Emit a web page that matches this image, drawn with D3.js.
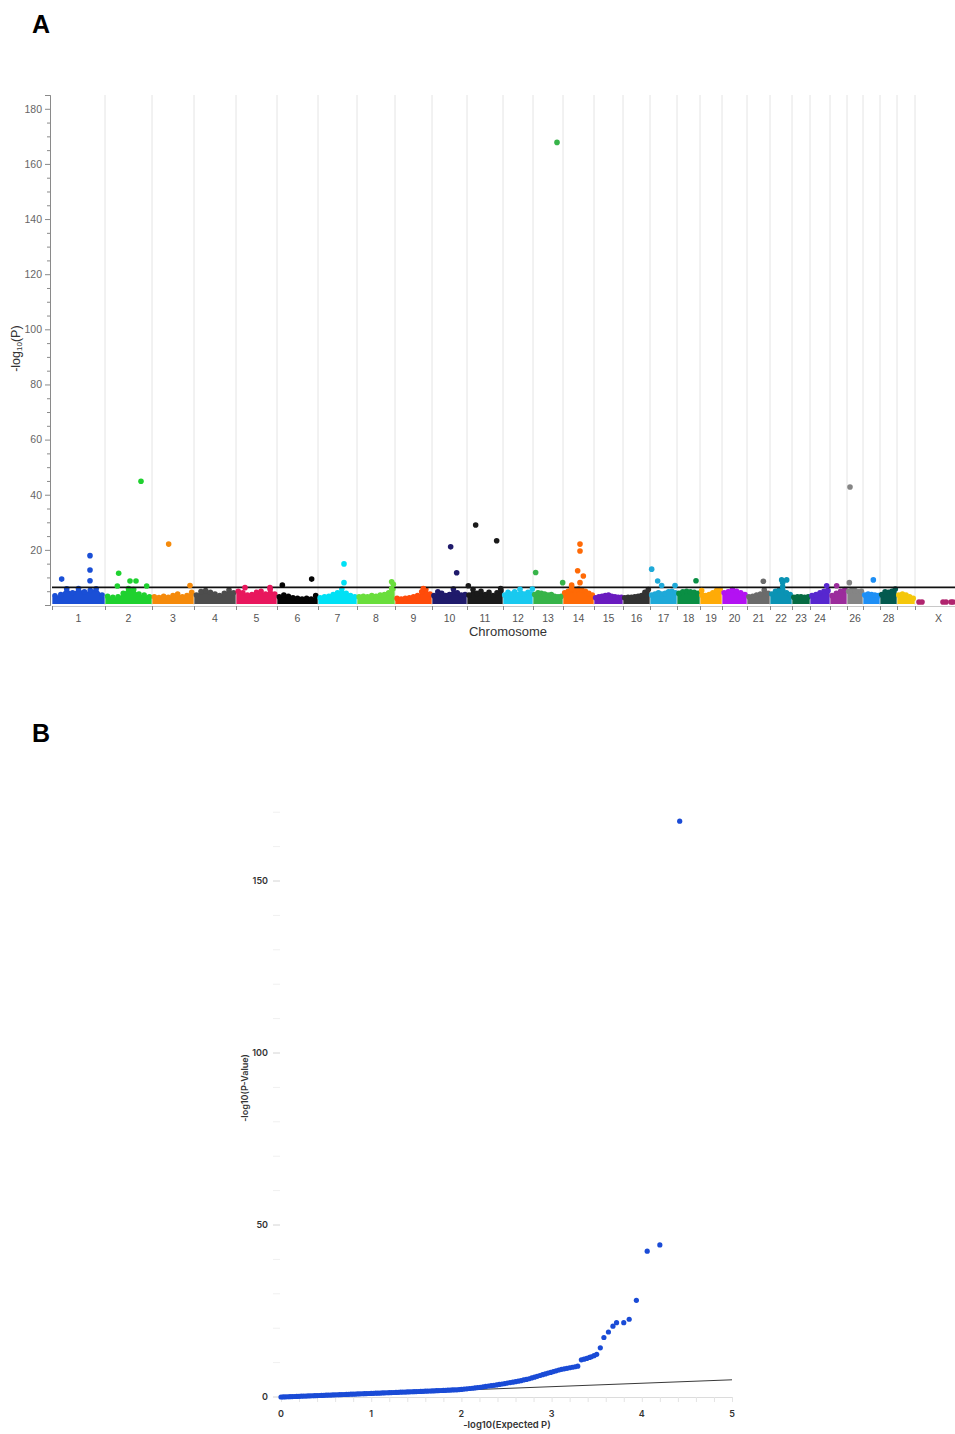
<!DOCTYPE html>
<html>
<head>
<meta charset="utf-8">
<script src="https://cdn.jsdelivr.net/npm/d3@7"></script>
<style>
    body { margin: 0; background: #fff; }
    svg { display: block; }
</style>
</head>
<body>
<svg id="chart" width="955" height="1434"></svg>
<script>
// --- Manhattan data ---
const chromosomes = ["1","2","3","4","5","6","7","8","9","10","11","12","13","14","15",
    "16","17","18","19","20","21","22","23","24","25","26","27","28","29","X"];
// lengths in Mb
const chromLengths = [159,141,126,126,123,123,117,114,111,105,108,90,90,93,87,
    81,81,69,66,75,69,66,54,60,51,48,51,51,54,141];
const hiddenLabels = ["25","27","29"];
const chromColors = ["#1a4fd6","#1fd12f","#f58a0b","#4d4d4d","#e8175d","#050505","#00e1f5","#6ade3c",
    "#ff4b0a","#1f1a6b","#1a1a1a","#19c9ef","#37b449","#ff6a06","#6a1bbf","#333333","#1fa9d8",
    "#0a8f44","#ffab07","#b312f2","#6b6b6b","#0a93b4","#056b43","#5727cf","#9b2c9c","#858585",
    "#1e8ff5","#045a4f","#f5c70a","#b0246e"];
// top of the dense mass of SNPs in each chromosome (-log10 P)
const massTops = [
    [3.3,3.8,5.9,4.4,6.0,4.8,5.3,5.9,3.6],
    [3.2,2.8,3.0,4.2,6.0,5.6,4.0,3.6,3.0],
    [3.0,2.7,3.2,2.8,3.4,4.0,3.0,3.4,4.6],
    [3.6,4.9,5.2,4.6,4.0,3.4,4.2,5.4,4.4],
    [5.0,4.4,3.6,3.8,4.6,5.0,4.0,5.6,4.0],
    [3.0,3.6,3.2,2.6,2.4,2.2,2.4,2.2,3.4],
    [2.6,3.0,3.2,3.8,4.4,5.8,4.2,3.4,3.0],
    [3.0,3.2,3.0,3.4,3.2,3.6,3.8,4.4,5.8],
    [2.4,2.2,2.4,2.6,3.0,3.4,4.8,5.6,4.0],
    [3.4,4.8,4.2,3.4,3.8,5.8,4.4,3.6,3.8],
    [3.6,5.6,4.2,5.0,3.8,4.6,3.4,4.4,5.2],
    [3.6,4.6,4.0,4.8,3.8,4.2,4.0,4.6,4.0],
    [3.8,4.4,4.2,4.0,3.6,3.8,3.2,3.0,3.2],
    [4.4,5.0,5.6,5.2,5.8,5.4,5.0,4.2,3.6],
    [2.6,3.0,3.2,3.4,3.6,3.2,3.0,2.8,2.8],
    [2.6,2.8,2.8,3.0,3.2,3.4,4.6,5.6],
    [3.6,4.0,4.4,4.0,4.2,4.8,5.0,4.4],
    [4.2,4.8,5.0,4.8,4.6,4.2],
    [3.6,3.4,3.8,4.4,5.2,5.6],
    [4.4,4.8,5.6,5.0,4.4,3.8],
    [3.0,3.2,3.6,4.0,5.4,4.2],
    [4.0,5.0,5.4,5.2,4.4,3.8],
    [2.8,3.0,3.0,2.8,3.0],
    [3.4,3.8,4.4,5.0,5.2],
    [3.4,4.2,5.0,5.6],
    [5.0,5.4,5.2,4.8,5.0],
    [3.6,4.0,3.8,3.6,3.4],
    [3.8,4.8,4.6,5.0,5.8],
    [3.6,4.0,3.6,3.0,2.4],
    []
];
// single SNPs standing out of the mass: chromosome, position in Mb, -log10 P
const hitChrom = ["1","1","1","1","2","2","2","2","2","2","3","3","5","5","6","6","7","7",
    "8","8","8","9","10","10","11","11","11","11","12","12","13","13","13",
    "14","14","14","14","14","14","14","17","17","17","17","18","19","21",
    "22","22","22","22","24","25","26","26","27","X","X","X","X","X","X"];
const hitPos = [29,114,114,114,41,37,75,93,125,108,50,114,27,102,16,104,78,78,
    104,109,104,85,56,74,4,26,89,101,51,88,8,72,89,
    51,51,44,61,51,26,26,5,23,35,75,57,5,49,
    35,50,38,38,50,20,7,9,31,12,21,84,93,108,114];
const hitValue = [9.4,17.9,12.7,8.8,11.5,6.9,8.7,8.7,6.9,44.9,22.1,7.1,6.3,6.3,7.2,9.4,14.9,8.1,
    8.4,7.5,6.0,6.0,21.1,11.7,7.0,29.0,23.3,6.0,5.7,5.8,11.8,167.8,8.1,
    22.1,19.6,12.4,10.5,8.1,7.2,6.0,13.0,8.7,7.1,7.1,8.8,5.2,8.6,
    9.1,9.1,8.1,6.6,7.0,7.0,8.1,42.8,9.1,1.1,1.1,1.1,1.1,1.1,1.1];
const threshold = 6.4;
const manhattanYTicks = [20,40,60,80,100,120,140,160,180];

// --- QQ data ---
const qqExpected = [
    0,0.025,0.05,0.075,0.1,0.125,0.15,0.175,0.2,0.225,0.25,0.275,0.3,0.325,0.35,0.375,0.4,0.425,0.45,0.475,
    0.5,0.525,0.55,0.575,0.6,0.625,0.65,0.675,0.7,0.725,0.75,0.775,0.8,0.825,0.85,0.875,0.9,0.925,0.95,0.975,
    1.0,1.025,1.05,1.075,1.1,1.125,1.15,1.175,1.2,1.225,1.25,1.275,1.3,1.325,1.35,1.375,1.4,1.425,1.45,1.475,
    1.5,1.525,1.55,1.575,1.6,1.625,1.65,1.675,1.7,1.725,1.75,1.775,1.8,1.825,1.85,1.875,1.9,1.925,1.95,1.975,
    2.0,2.03,2.06,2.09,2.12,2.15,2.18,2.21,2.24,2.27,2.3,2.33,2.36,2.39,2.42,2.45,2.48,2.51,2.54,2.57,
    2.6,2.63,2.66,2.69,2.72,2.75,2.78,2.81,2.84,2.87,2.9,2.93,2.96,2.99,3.02,3.05,3.08,3.11,3.14,3.17,
    3.2,3.23,3.26,3.29,
    3.33,3.36,3.39,3.42,3.44,3.47,3.5,3.54,3.58,3.63,3.68,3.72,3.8,3.86,3.94,4.06,4.2,4.42];
const qqObserved = [
    0,0.02,0.05,0.07,0.1,0.12,0.15,0.18,0.21,0.23,0.26,0.28,0.31,0.33,0.36,0.39,0.41,0.44,0.47,0.49,
    0.52,0.55,0.57,0.6,0.62,0.65,0.68,0.7,0.73,0.76,0.78,0.81,0.83,0.86,0.89,0.91,0.94,0.97,0.99,1.02,
    1.05,1.07,1.1,1.12,1.15,1.18,1.2,1.23,1.26,1.28,1.31,1.34,1.36,1.39,1.42,1.44,1.47,1.5,1.53,1.55,
    1.58,1.6,1.63,1.66,1.69,1.71,1.74,1.77,1.8,1.83,1.86,1.89,1.92,1.95,1.98,2.01,2.05,2.08,2.1,2.15,
    2.2,2.3,2.38,2.47,2.55,2.64,2.73,2.83,2.95,3.07,3.2,3.3,3.4,3.5,3.65,3.78,3.9,4.04,4.18,4.3,
    4.45,4.6,4.75,4.95,5.1,5.3,5.55,5.75,6.0,6.25,6.5,6.7,6.95,7.15,7.4,7.6,7.85,8.05,8.2,8.35,
    8.5,8.65,8.8,8.95,
    10.8,11.0,11.2,11.5,11.7,12.0,12.4,14.3,17.3,18.9,20.6,21.6,21.6,22.6,28.1,42.4,44.2,167.4];
const qqXTicks = [0,1,2,3,4,5];
const qqYTicks = [0,50,100,150];

var svg = d3.select("#chart");
svg.append("rect").attr("width", 955).attr("height", 1434).attr("fill", "#fff");

// panel letters
svg.append("text").attr("x", 41).attr("y", 33).attr("text-anchor", "middle")
    .style("font", "bold 25px 'Liberation Sans', Arial, sans-serif").text("A");
svg.append("text").attr("x", 41).attr("y", 742).attr("text-anchor", "middle")
    .style("font", "bold 25px 'Liberation Sans', Arial, sans-serif").text("B");

// ================= Manhattan =================
let starts = [];
let acc = 0;
for (let i = 0; i < chromLengths.length; i++) {
    starts.push(acc);
    acc += chromLengths[i];
}
const totalLen = acc;

var x = d3.scaleLinear().domain([0, totalLen]).range([52, 962]);
var y = d3.scaleLinear().domain([0, 185]).range([605, 95]);

var man = svg.append("g");

// vertical boundaries
man.append("g").selectAll("line")
    .data(starts.slice(1))
    .enter().append("line")
    .attr("x1", d => x(d)).attr("x2", d => x(d))
    .attr("y1", y(185)).attr("y2", y(0))
    .attr("stroke", "#e4e4e4").attr("stroke-width", 1);

// dense mass per chromosome
var area = d3.area()
    .curve(d3.curveMonotoneX)
    .x(d => x(d[0]))
    .y0(y(0.4))
    .y1(d => y(d[1]));

massTops.forEach(function (tops, i) {
    if (!tops.length) return;
    let n = tops.length;
    let len = chromLengths[i];
    let pts = tops.map((v, j) => [starts[i] + (j + 0.5) / n * len, v]);
    let shape = [[starts[i] + 1, tops[0] * 0.8]].concat(pts, [[starts[i] + len - 1, tops[n - 1] * 0.8]]);
    man.append("path").attr("d", area(shape)).attr("fill", chromColors[i]);
    man.append("g").selectAll("circle").data(pts).enter().append("circle")
        .attr("cx", d => x(d[0])).attr("cy", d => y(d[1])).attr("r", 2.8)
        .attr("fill", chromColors[i]);
});

// threshold line
man.append("line")
    .attr("x1", 52).attr("x2", 955)
    .attr("y1", y(threshold)).attr("y2", y(threshold))
    .attr("stroke", "#111").attr("stroke-width", 1.6);

// individual hits
man.append("g").selectAll("circle")
    .data(hitChrom.map((c, i) => ({ c: c, pos: hitPos[i], v: hitValue[i] })))
    .enter().append("circle")
    .attr("cx", d => x(starts[chromosomes.indexOf(d.c)] + d.pos))
    .attr("cy", d => y(d.v))
    .attr("r", 2.8)
    .attr("fill", d => chromColors[chromosomes.indexOf(d.c)]);

// y axis
var yAxisG = man.append("g").attr("transform", "translate(50,0)");
yAxisG.call(d3.axisLeft(y).tickValues(d3.range(0, 185, 5).filter(v => v % 20 != 0))
    .tickFormat("").tickSize(3).tickSizeOuter(0));
yAxisG.append("g").call(d3.axisLeft(y).tickValues(manhattanYTicks).tickSize(5).tickPadding(3));
yAxisG.selectAll("path.domain").attr("stroke", "#8a8a8a");
yAxisG.selectAll("line").attr("stroke", "#8a8a8a");
yAxisG.selectAll("text").attr("fill", "#666")
    .style("font", "10.5px 'Liberation Sans', Arial, sans-serif");
yAxisG.select("g").select("path.domain").remove();

var yLab = man.append("text")
    .attr("transform", "translate(20," + y(93) + ") rotate(-90)")
    .attr("text-anchor", "middle").attr("fill", "#333")
    .style("font", "12.5px 'Liberation Sans', Arial, sans-serif");
yLab.append("tspan").text("-log");
yLab.append("tspan").attr("font-size", "8px").attr("dy", 2).text("10");
yLab.append("tspan").attr("dy", -2).text("(P)");

// x axis
var xAxisG = man.append("g").attr("transform", "translate(0,606)");
xAxisG.call(d3.axisBottom(x).tickValues(starts.concat([totalLen])).tickFormat("")
    .tickSize(4).tickSizeOuter(0));
xAxisG.selectAll("path.domain").attr("stroke", "#c8c8c8");
xAxisG.selectAll("line").attr("stroke", "#888");

man.append("g").selectAll("text")
    .data(chromosomes.filter(c => hiddenLabels.indexOf(c) < 0))
    .enter().append("text")
    .attr("x", function (c) {
        let i = chromosomes.indexOf(c);
        return x(starts[i] + chromLengths[i] / 2);
    })
    .attr("y", 622)
    .attr("text-anchor", "middle").attr("fill", "#555")
    .style("font", "10.5px 'Liberation Sans', Arial, sans-serif")
    .text(c => c);

man.append("text").attr("x", 508).attr("y", 636).attr("text-anchor", "middle")
    .attr("fill", "#333").style("font", "13px 'Liberation Sans', Arial, sans-serif")
    .text("Chromosome");

// ================= QQ plot =================
var xq = d3.scaleLinear().domain([0, 5]).range([281, 732]);
var yq = d3.scaleLinear().domain([0, 170]).range([1397, 1397 - 170 * 3.44]);
var qq = svg.append("g");
var qqFont = "600 9px Inter, 'Liberation Sans', Arial, sans-serif";

// y ticks
qq.append("g").selectAll("line")
    .data(d3.range(0, 171, 10))
    .enter().append("line")
    .attr("x1", 273).attr("x2", 280)
    .attr("y1", d => yq(d)).attr("y2", d => yq(d))
    .attr("stroke", d => d % 50 == 0 ? "#d4d4d4" : "#f0f0f0").attr("stroke-width", 1);
qq.append("g").selectAll("text")
    .data(qqYTicks)
    .enter().append("text")
    .attr("x", 268).attr("y", d => yq(d) + 3)
    .attr("text-anchor", "end").attr("fill", "#333")
    .style("font", qqFont).text(d => d);

// x axis
var xqAxis = qq.append("g").attr("transform", "translate(0,1397)");
xqAxis.call(d3.axisBottom(xq).tickValues(d3.range(0, 5.01, 0.2)).tickFormat("")
    .tickSize(5).tickSizeOuter(0));
xqAxis.selectAll("path.domain").attr("stroke", "#dcdcdc");
xqAxis.selectAll("line").attr("stroke", "#e4e4e4");
qq.append("g").selectAll("text")
    .data(qqXTicks)
    .enter().append("text")
    .attr("x", d => xq(d)).attr("y", 1417)
    .attr("text-anchor", "middle").attr("fill", "#333")
    .style("font", qqFont).text(d => d);

qq.append("text").attr("x", 507).attr("y", 1428).attr("text-anchor", "middle")
    .attr("fill", "#333").style("font", "600 9.5px Inter, 'Liberation Sans', Arial, sans-serif")
    .text("-log10(Expected P)");
qq.append("text")
    .attr("transform", "translate(248,1088) rotate(-90)")
    .attr("text-anchor", "middle").attr("fill", "#333")
    .style("font", qqFont).text("-log10(P-Value)");

// expected line
qq.append("line")
    .attr("x1", xq(0)).attr("y1", yq(0))
    .attr("x2", xq(5)).attr("y2", yq(5))
    .attr("stroke", "#222").attr("stroke-width", 0.9);

qq.append("g").selectAll("circle")
    .data(qqExpected.map((e, i) => [e, qqObserved[i]]))
    .enter().append("circle")
    .attr("cx", d => xq(d[0])).attr("cy", d => yq(d[1]))
    .attr("r", 2.6)
    .attr("fill", "#1a4bd6");
</script>
</body>
</html>
